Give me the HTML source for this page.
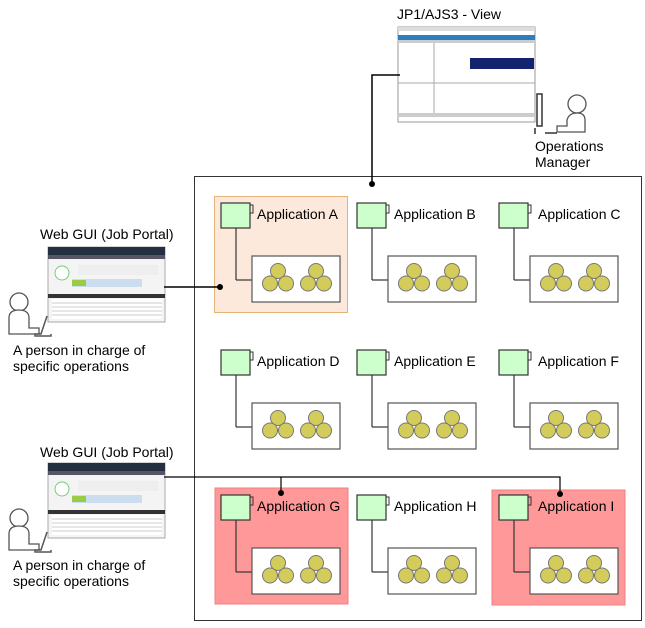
<!DOCTYPE html>
<html><head><meta charset="utf-8"><style>
body{margin:0;background:#fff;width:645px;height:623px;overflow:hidden}
svg text{font-family:"Liberation Sans",sans-serif;font-size:14px;fill:#000}
</style></head><body>
<svg width="645" height="623" viewBox="0 0 645 623" xmlns="http://www.w3.org/2000/svg">
<defs>
<g id="tri">
<line x1="0" y1="0" x2="-7" y2="12" stroke="#333"/><line x1="0" y1="0" x2="7" y2="12" stroke="#333"/><line x1="-7" y1="12" x2="7" y2="12" stroke="#333"/>
<circle cx="0" cy="0" r="7.5" fill="#d4cc5a" stroke="#777"/>
<circle cx="-8" cy="12.5" r="7.5" fill="#d4cc5a" stroke="#777"/>
<circle cx="8" cy="12.5" r="7.5" fill="#d4cc5a" stroke="#777"/>
</g>
<g id="app">
<rect x="0" y="0" width="29" height="25" fill="#ccffcc" stroke="#333" stroke-width="1.2"/>
<path d="M29 2 h3 v8 h-3" fill="none" stroke="#333"/>
<line x1="15" y1="25" x2="15" y2="77" stroke="#333" stroke-width="1.2"/>
<line x1="15" y1="77" x2="31" y2="77" stroke="#333" stroke-width="1.2"/>
<rect x="31" y="53" width="88" height="46" fill="#fff" stroke="#555" stroke-width="1.2"/>
<use href="#tri" x="57" y="68"/><use href="#tri" x="95" y="68"/>
</g>
<g id="web">
<rect x="0" y="0" width="117" height="75" fill="#f4f4f4" stroke="#aaa"/>
<rect x="0" y="0" width="117" height="8" fill="#243040"/>
<rect x="0" y="8" width="117" height="4" fill="#556"/>
<circle cx="14" cy="26" r="7" fill="#fff" stroke="#7c7"/>
<rect x="30" y="18" width="80" height="10" fill="#eee"/>
<rect x="24" y="32" width="70" height="8" fill="#cde"/>
<rect x="24" y="33" width="14" height="6" fill="#9c4"/>
<rect x="0" y="47" width="117" height="4" fill="#333"/>
<rect x="4" y="52" width="110" height="20" fill="#fff"/>
<g stroke="#ccc"><line x1="4" y1="56" x2="114" y2="56"/><line x1="4" y1="60" x2="114" y2="60"/><line x1="4" y1="64" x2="114" y2="64"/><line x1="4" y1="68" x2="114" y2="68"/></g>
</g>
<g id="person">
<circle cx="14" cy="10" r="9" fill="#fff" stroke="#555" stroke-width="1.3"/>
<path d="M4 42 V26 Q4 18 14 18 Q24 18 24 26 V36 L34 36 V42 Z" fill="#fff" stroke="#555" stroke-width="1.3"/>
<path d="M42 24 L36 42 H30 V44 H46 V42" fill="none" stroke="#555" stroke-width="1.5"/>
</g>
</defs>

<rect x="194.5" y="176.5" width="447" height="444" fill="#fff" stroke="#333"/>
<rect x="214.5" y="196.5" width="133" height="116" fill="#fde9dc" stroke="#e5b27a"/>
<rect x="215" y="488" width="133" height="116" fill="#ff9999" stroke="#f08080"/>
<rect x="492" y="490" width="133" height="115" fill="#ff9999" stroke="#f08080"/>

<use href="#app" x="221" y="203"/><use href="#app" x="357" y="203"/><use href="#app" x="499" y="203"/>
<use href="#app" x="221" y="350"/><use href="#app" x="357" y="350"/><use href="#app" x="499" y="350"/>
<use href="#app" x="221" y="495"/><use href="#app" x="357" y="495"/><use href="#app" x="499" y="495"/>
<text x="257" y="219">Application A</text><text x="394" y="219">Application B</text><text x="538" y="219">Application C</text>
<text x="257" y="366">Application D</text><text x="394" y="366">Application E</text><text x="538" y="366">Application F</text>
<text x="257" y="511">Application G</text><text x="394" y="511">Application H</text><text x="538" y="511">Application I</text>

<text x="397" y="19">JP1/AJS3 - View</text>
<rect x="398" y="27" width="137" height="95" fill="#fff" stroke="#999"/>
<rect x="398" y="27" width="137" height="4" fill="#ddd"/>
<rect x="398" y="35" width="137" height="5" fill="#2b7fc0"/>
<rect x="398" y="40" width="137" height="3" fill="#ccc"/>
<rect x="470" y="58" width="64" height="11" fill="#13236e"/>
<rect x="398" y="113" width="137" height="4" fill="#ccc"/>
<line x1="434" y1="43" x2="434" y2="113" stroke="#aaa"/><line x1="398" y1="83" x2="535" y2="83" stroke="#aaa"/>
<polyline points="400,75 372,75 372,184" fill="none" stroke="#000" stroke-width="1.5"/>
<circle cx="372" cy="184" r="3" fill="#000"/>
<g transform="translate(533,92)">
<rect x="4" y="2" width="5" height="32" fill="#fff" stroke="#333" stroke-width="1.5"/>
<line x1="2" y1="36" x2="2" y2="42" stroke="#333" stroke-width="1.5"/>
<circle cx="44" cy="12" r="9" fill="#fff" stroke="#555" stroke-width="1.3"/>
<path d="M52 40 V28 Q52 21 44 21 Q36 21 34 28 V34 L24 34 V40 Z" fill="#fff" stroke="#555" stroke-width="1.3"/>
<line x1="12" y1="41" x2="24" y2="41" stroke="#333" stroke-width="1.5"/>
</g>
<text x="535" y="151">Operations</text><text x="535" y="167">Manager</text>

<text x="40" y="239">Web GUI (Job Portal)</text>
<use href="#web" x="48" y="247"/>
<use href="#person" x="5" y="292"/>
<text x="13" y="355">A person in charge of</text><text x="13" y="371">specific operations</text>
<line x1="164" y1="287" x2="220" y2="287" stroke="#000" stroke-width="1.5"/>
<circle cx="220" cy="287" r="3" fill="#000"/>

<text x="40" y="457">Web GUI (Job Portal)</text>
<use href="#web" x="48" y="463"/>
<use href="#person" x="5" y="508"/>
<text x="13" y="570">A person in charge of</text><text x="13" y="586">specific operations</text>
<polyline points="164,477 560,477 560,493" fill="none" stroke="#000" stroke-width="1.2"/>
<line x1="281" y1="477" x2="281" y2="493" stroke="#000" stroke-width="1.2"/>
<circle cx="281" cy="493" r="3" fill="#000"/><circle cx="560" cy="494" r="3" fill="#000"/>
</svg>
</body></html>
